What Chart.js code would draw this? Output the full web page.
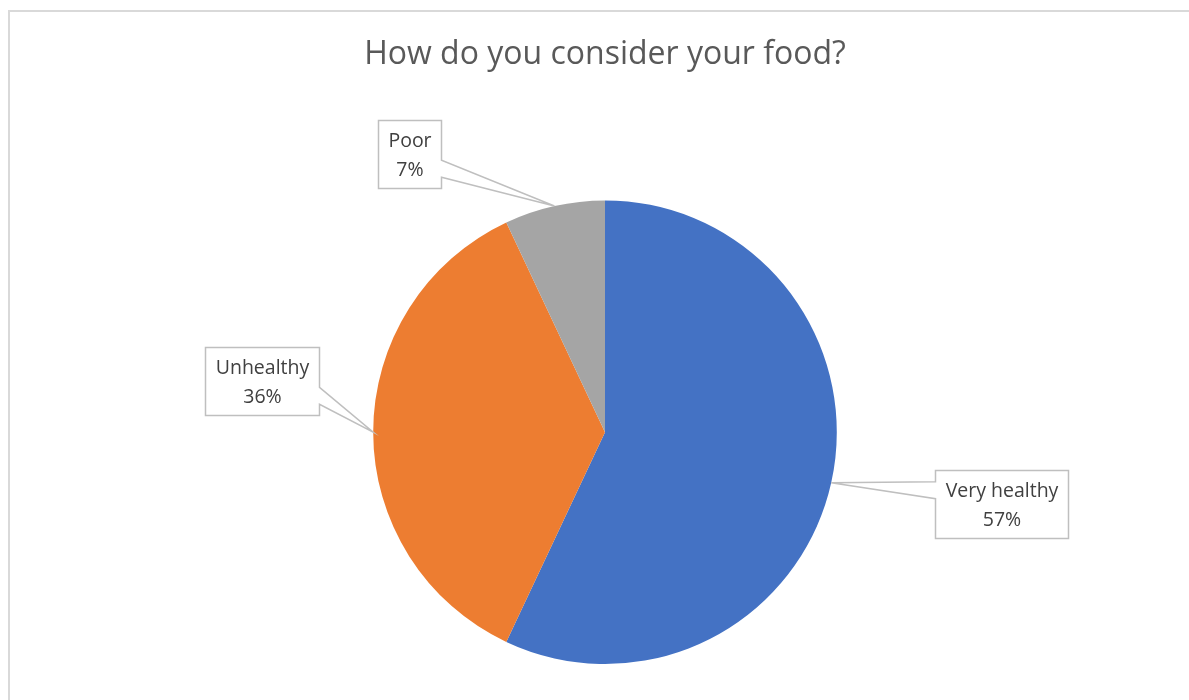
<!DOCTYPE html>
<html>
<head>
<meta charset="utf-8">
<title>How do you consider your food?</title>
<script src="https://cdn.jsdelivr.net/npm/chart.js"></script>
<style>
  html, body { margin: 0; padding: 0; background: #fff; }
  #wrap { width: 1189px; height: 700px; }
</style>
</head>
<body>
<div id="wrap"><canvas id="foodChart" width="1189" height="700"></canvas></div>
<script>
const categories = ['Very healthy', 'Unhealthy', 'Poor'];
const shares = [57, 36, 7];
const sliceColors = ['#4472C4', '#ED7D31', '#A5A5A5'];

// callout box offset from the slice edge point (box centre - anchor)
const calloutOffsets = [[170, 21], [-111, -51], [-145, -52]];

const FONT = "'Open Sans', 'Liberation Sans', sans-serif";

const frameBorder = {
    id: 'frameBorder',
    beforeDraw(chart) {
        const ctx = chart.ctx;
        ctx.save();
        ctx.fillStyle = '#fff';
        ctx.fillRect(0, 0, chart.width, chart.height);
        ctx.strokeStyle = '#d9d9d9';
        ctx.lineWidth = 2;
        ctx.strokeRect(9, 11, chart.width + 20, chart.height + 20);
        ctx.restore();
    }
};

const callouts = {
    id: 'callouts',
    afterDraw(chart) {
        const ctx = chart.ctx;
        const meta = chart.getDatasetMeta(0);
        const total = shares.reduce((a, b) => a + b, 0);
        ctx.save();
        ctx.font = '19.5px ' + FONT;
        meta.data.forEach((arc, i) => {
            const mid = (arc.startAngle + arc.endAngle) / 2;
            const tx = arc.x + Math.cos(mid) * arc.outerRadius;
            const ty = arc.y + Math.sin(mid) * arc.outerRadius;
            const lines = [categories[i], Math.round(shares[i] / total * 100) + '%'];
            const w = Math.max(...lines.map(s => ctx.measureText(s).width)) + 20;
            const h = 68;
            const cx = tx + calloutOffsets[i][0];
            const cy = ty + calloutOffsets[i][1];
            const left = Math.round(cx - w / 2) + 0.5, right = left + Math.round(w);
            const top = Math.round(cy - h / 2) + 0.5, bottom = top + h;
            const bc = Math.min(Math.max(ty, top + h * 0.29), bottom - h * 0.29);
            const b1 = bc - 8.5, b2 = bc + 8.5;

            ctx.beginPath();
            ctx.moveTo(left, top);
            ctx.lineTo(right, top);
            if (tx > right) {
                ctx.lineTo(right, b1);
                ctx.lineTo(tx, ty);
                ctx.lineTo(right, b2);
            }
            ctx.lineTo(right, bottom);
            ctx.lineTo(left, bottom);
            if (tx < left) {
                ctx.lineTo(left, b2);
                ctx.lineTo(tx, ty);
                ctx.lineTo(left, b1);
            }
            ctx.closePath();
            ctx.fillStyle = '#fff';
            ctx.fill();
            ctx.strokeStyle = '#bfbfbf';
            ctx.lineWidth = 1.5;
            ctx.stroke();

            ctx.fillStyle = '#404040';
            ctx.textAlign = 'center';
            ctx.textBaseline = 'middle';
            ctx.fillText(lines[0], (left + right) / 2, top + 21);
            ctx.fillText(lines[1], (left + right) / 2, top + 50);
        });
        ctx.restore();
    }
};

new Chart(document.getElementById('foodChart'), {
    type: 'pie',
    data: {
        labels: categories,
        datasets: [{
            data: shares,
            backgroundColor: sliceColors,
            borderWidth: 0
        }]
    },
    options: {
        responsive: false,
        animation: false,
        layout: { padding: { top: 20, left: 21, right: 0, bottom: 36 } },
        plugins: {
            legend: { display: false },
            tooltip: { enabled: false },
            title: {
                display: true,
                text: 'How do you consider your food?',
                color: '#595959',
                font: { family: FONT, size: 32, weight: 'normal', lineHeight: 1.2 },
                padding: { top: 16, bottom: 126 }
            }
        }
    },
    plugins: [frameBorder, callouts]
});
</script>
</body>
</html>
